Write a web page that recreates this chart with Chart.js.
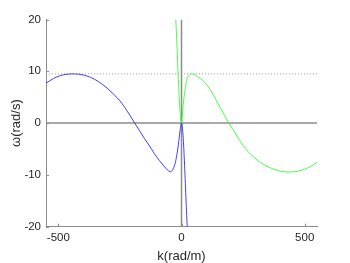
<!DOCTYPE html>
<html>
<head>
<meta charset="utf-8">
<script src="https://cdn.jsdelivr.net/npm/chart.js@4/dist/chart.umd.min.js"></script>
<style>
  html, body { margin: 0; padding: 0; background: #fff; }
  #wrap { width: 350px; height: 263px; }
</style>
</head>
<body>
<div id="wrap"><canvas id="dispPlot" width="350" height="263"></canvas></div>
<script>
// Branch 1 (blue): k in rad/m, omega in rad/s
const blueK = [-550, -520, -490, -460, -435, -400, -370, -335, -302, -270, -250, -230, -210, -190, -170, -150, -130, -110, -90, -75, -62, -52, -45, -38, -30, -24, -17, -11, -5, 0, 25];
const blueW = [7.7, 8.6, 9.2, 9.45, 9.5, 9.3, 8.85, 7.95, 6.75, 5.3, 4.3, 3.0, 1.55, 0, -1.5, -3.0, -4.4, -5.9, -7.2, -8.1, -8.8, -9.25, -9.4, -9.15, -8.4, -7.4, -5.6, -3.5, -1.2, 0, -21.7];

// Branch 2 (green)
const greenK = [-25, 0, 5, 9, 13.5, 18, 24, 32, 41, 52, 65, 91, 120, 152, 172, 192, 212, 230, 250, 270, 294, 320, 345, 370, 400, 436, 470, 500, 530, 551];
const greenW = [21.7, 0, 2.5, 4.5, 6.1, 7.6, 8.7, 9.3, 9.5, 9.4, 9.0, 8.0, 6.2, 3.4, 1.75, 0, -1.5, -2.9, -4.3, -5.5, -6.6, -7.6, -8.3, -8.8, -9.25, -9.45, -9.3, -8.9, -8.2, -7.5];

// reference level (dotted)
const refW = 9.5;

// axes
const kRange = [-550, 550];
const wRange = [-20, 20];
const kTicks = [-500, 0, 500];
const wTicks = [-20, -10, 0, 10, 20];

const toPts = (xs, ys) => xs.map((v, i) => ({ x: v, y: ys[i] }));

// small inward tick marks, like the original plot
const inwardTicks = {
  id: "inwardTicks",
  afterDatasetsDraw(chart) {
    const { ctx, chartArea, scales } = chart;
    ctx.save();
    ctx.strokeStyle = "#8c8c8c";
    ctx.lineWidth = 1;
    ctx.beginPath();
    wTicks.forEach(v => {
      const y = Math.round(scales.y.getPixelForValue(v)) + 0.5;
      ctx.moveTo(chartArea.left, y);
      ctx.lineTo(chartArea.left + 3, y);
    });
    kTicks.forEach(v => {
      const x = Math.round(scales.x.getPixelForValue(v)) + 0.5;
      ctx.moveTo(x, chartArea.bottom);
      ctx.lineTo(x, chartArea.bottom - 3);
    });
    ctx.stroke();
    ctx.restore();
  }
};

const font = { family: "'Liberation Sans', Arial, Helvetica, sans-serif" };

new Chart(document.getElementById("dispPlot"), {
  type: "scatter",
  data: {
    datasets: [
      { data: toPts(blueK, blueW), showLine: true, borderColor: "#2a2aff", borderWidth: 0.9,
        pointRadius: 0, cubicInterpolationMode: "monotone", clip: 0, order: 0 },
      { data: toPts(greenK, greenW), showLine: true, borderColor: "#33ff33", borderWidth: 0.9,
        pointRadius: 0, cubicInterpolationMode: "monotone", clip: 0, order: 0 },
      { data: toPts(kRange, [0, 0]), showLine: true, borderColor: "#8c8c8c", borderWidth: 1.5,
        pointRadius: 0, clip: 0, order: 1 },
      { data: toPts([0, 0], wRange), showLine: true, borderColor: "#8c8c8c", borderWidth: 1.5,
        pointRadius: 0, clip: 0, order: 1 },
      { data: toPts(kRange, [refW, refW]), showLine: true, borderColor: "#a0a0a0", borderWidth: 1,
        borderDash: [1, 2], pointRadius: 0, clip: 0, order: 1 }
    ]
  },
  options: {
    responsive: false,
    animation: false,
    events: [],
    layout: { padding: { left: 0, top: 19.5, right: 33, bottom: 0 } },
    plugins: { legend: { display: false }, tooltip: { enabled: false } },
    scales: {
      x: {
        type: "linear", min: kRange[0], max: kRange[1],
        afterBuildTicks: s => { s.ticks = kTicks.map(v => ({ value: v })); },
        afterFit: s => { s.height = 36.3; },
        grid: { display: false, drawTicks: false, tickLength: 0 },
        border: { display: true, color: "#8c8c8c", width: 1 },
        ticks: { color: "#262626", padding: 4, maxRotation: 0, font: { ...font, size: 11.5 } },
        title: { display: true, text: "k(rad/m)", color: "#262626",
          padding: { top: 0, bottom: 0.5 }, font: { ...font, size: 13, lineHeight: 1 } }
      },
      y: {
        type: "linear", min: wRange[0], max: wRange[1],
        afterBuildTicks: s => { s.ticks = wTicks.map(v => ({ value: v })); },
        afterFit: s => { s.width = 46; },
        grid: { display: false, drawTicks: false, tickLength: 0 },
        border: { display: true, color: "#8c8c8c", width: 1 },
        ticks: { color: "#262626", padding: 5, font: { ...font, size: 11.5 } },
        title: { display: true, text: "ω(rad/s)", color: "#262626",
          padding: { top: 9.5, bottom: 0 }, font: { ...font, size: 13, lineHeight: 1 } }
      }
    }
  },
  plugins: [inwardTicks]
});
</script>
</body>
</html>
